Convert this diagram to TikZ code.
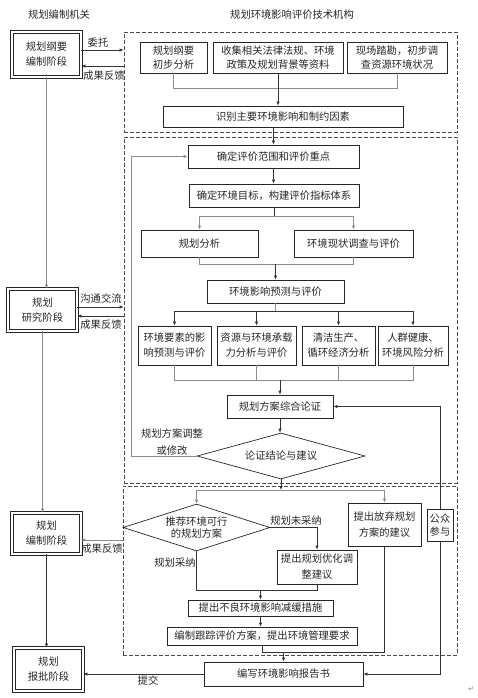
\documentclass[tikz,border=0pt]{standalone}
\usepackage{fontspec}
\setmainfont{Noto Sans CJK SC}
\newfontfamily\symfont{DejaVu Sans}
\usetikzlibrary{arrows.meta,shapes.geometric}

\begin{document}
\begin{tikzpicture}[x=1pt, y=-1pt, >={Latex[length=4pt,width=3.5pt]},
    every node/.style={font=\fontsize{10.3}{15}\selectfont, text=black!85, align=center, inner sep=0pt},
    box/.style={draw=black!85, line width=0.7pt},
    stage/.style={draw=black!85, double, line width=0.8pt, double distance=1.5pt},
    region/.style={draw=black!70, line width=0.7pt, dash pattern=on 4pt off 2pt},
    choice/.style={draw=black!85, line width=0.7pt, diamond, aspect=3.5, font=\fontsize{10.3}{12.5}\selectfont},
    link/.style={draw=black!80, line width=0.7pt},
    glink/.style={draw=black!45, line width=0.8pt}]
\useasboundingbox (0,0) rectangle (478,698);

% titles
\node (tl) at (59,15) {规划编制机关};
\node (tr) at (292,15) {规划环境影响评价技术机构};

% dashed regions
\node (r1) [region, minimum width=333pt, minimum height=100pt] at (290.5,82) {};
\node (r2) [region, minimum width=333pt, minimum height=346pt] at (290.5,310) {};
\node (r3) [region, minimum width=334pt, minimum height=169pt] at (290,570.5) {};

% planning stages
\node (plan1) [stage, minimum width=69pt, minimum height=45pt] at (46.5,54.5) {规划纲要\\编制阶段};
\node (plan2) [stage, minimum width=69pt, minimum height=42pt] at (42.5,310) {规划\\研究阶段};
\node (plan3) [stage, minimum width=69pt, minimum height=41pt] at (46.5,533.5) {规划\\编制阶段};
\node (plan4) [stage, minimum width=69pt, minimum height=43pt] at (48.5,669.5) {规划\\报批阶段};

% first region
\node (a1) [box, minimum width=67pt, minimum height=31pt, font=\fontsize{10.3}{14}\selectfont] at (173.5,57.5) {规划纲要\\初步分析};
\node (a2) [box, minimum width=130pt, minimum height=31pt, font=\fontsize{10.3}{14}\selectfont] at (278,57.5) {收集相关法律法规、环境\\政策及规划背景等资料};
\node (a3) [box, minimum width=100pt, minimum height=31pt, font=\fontsize{10.3}{14}\selectfont] at (397,57.5) {现场踏勘，初步调\\查资源环境状况};
\node (ident) [box, minimum width=240pt, minimum height=21pt] at (283,116.5) {识别主要环境影响和制约因素};

% second region
\node (scope) [box, minimum width=171pt, minimum height=23pt] at (273.5,156.5) {确定评价范围和评价重点};
\node (goal) [box, minimum width=170pt, minimum height=23pt] at (274,195.5) {确定环境目标，构建评价指标体系};
\node (plana) [box, minimum width=117pt, minimum height=27pt] at (199.5,243.5) {规划分析};
\node (status) [box, minimum width=119pt, minimum height=27pt] at (353.5,243.5) {环境现状调查与评价};
\node (pred) [box, minimum width=137pt, minimum height=23pt] at (275.5,291.5) {环境影响预测与评价};
\node (e1) [box, minimum width=73pt, minimum height=39pt] at (174.5,345.5) {环境要素的影\\响预测与评价};
\node (e2) [box, minimum width=79pt, minimum height=39pt] at (256.5,345.5) {资源与环境承载\\力分析与评价};
\node (e3) [box, minimum width=73pt, minimum height=39pt] at (338.5,345.5) {清洁生产、\\循环经济分析};
\node (e4) [box, minimum width=70pt, minimum height=39pt] at (413,345.5) {人群健康、\\环境风险分析};
\node (synth) [box, minimum width=106pt, minimum height=23pt] at (280,406.5) {规划方案综合论证};
\node (concl) [choice, minimum width=168pt, minimum height=46pt] at (281,456) {论证结论与建议};

% third region
\node (rec) [choice, minimum width=147pt, minimum height=47pt] at (196.5,527.5) {推荐环境可行\\的规划方案};
\node (opt) [box, minimum width=80pt, minimum height=34pt, font=\fontsize{10.3}{16}\selectfont] at (317,567) {提出规划优化调\\整建议};
\node (aban) [box, minimum width=73pt, minimum height=43pt, font=\fontsize{10.3}{16}\selectfont] at (384.5,524.5) {提出放弃规划\\方案的建议};
\node (pub) [box, minimum width=26pt, minimum height=32pt, font=\fontsize{10.3}{13}\selectfont] at (440,525) {公众\\参与};
\node (mit) [box, minimum width=145pt, minimum height=16pt] at (260.5,608) {提出不良环境影响减缓措施};
\node (track) [box, minimum width=190pt, minimum height=18pt] at (262,636) {编制跟踪评价方案，提出环境管理要求};
\node (report) [box, minimum width=159pt, minimum height=24pt] at (283.5,674) {编写环境影响报告书};

% left column
\draw [glink, ->] (plan1.south) -- (plan1.south |- plan2.north);
\draw [glink, ->] (plan2.south) -- (plan2.south |- plan3.north);
\draw [link, ->] (plan3.south) -- (plan3.south |- plan4.north);

% exchange with the institute
\draw [link, ->] (plan1.east |- 0,50) -- (r1.west |- 0,50);
\draw [link, <-] (plan1.east |- 0,66) -- (r1.west |- 0,66);
\node at (98,43) {委托};
\node at (104,76) {成果反馈};
\draw [link, ->] (plan2.east |- 0,307) -- (r2.west |- 0,307);
\draw [link, <-] (plan2.east |- 0,316) -- (r2.west |- 0,316);
\node at (101,299) {沟通交流};
\node at (101,325) {成果反馈};
\draw [glink, <-] (plan3.east |- 0,540) -- (r3.west |- 0,540);
\node at (102,549) {成果反馈};
\draw [link, ->] (report.west) -- (report.west -| plan4.east);
\node at (148,681) {提交};

% first region links
\draw [glink] (a1.south) |- (a3.south |- 0,88) -- (a3.south);
\draw [link, ->] (a2.south) -- (a2.south |- ident.north);
\draw [link, ->] (scope.north |- ident.south) -- (scope.north);

% second region links
\draw [link, ->] (scope.south) -- (scope.south |- goal.north);
\coordinate (s1) at (goal.south |- 0,216);
\draw [link] (goal.south) -- (s1);
\draw [glink, ->] (s1) -| (plana.north);
\draw [glink, ->] (s1) -| (status.north);
\draw [glink] (plana.south) |- (status.south |- 0,264) -- (status.south);
\draw [link, ->] (pred.north |- 0,264) -- (pred.north);
\coordinate (s2) at (pred.south |- 0,311);
\draw [glink] (pred.south) -- (s2);
\draw [link, ->] (s2) -| (e1.north);
\draw [link, ->] (s2) -| (e2.north);
\draw [link, ->] (s2) -| (e3.north);
\draw [link, ->] (s2) -| (e4.north);
\draw [glink] (e1.south) |- (e4.south |- 0,380) -- (e4.south);
\draw [glink] (e2.south) -- (e2.south |- 0,380);
\draw [glink] (e3.south) -- (e3.south |- 0,380);
\draw [link, ->] (synth.north |- 0,380) -- (synth.north);
\draw [link, ->] (synth.south) -- (synth.south |- concl.north);
\coordinate (lp) at (131,456);
\draw [glink, ->] (concl.west) -- (lp) |- (scope.west);
\node at (172,442) [font=\fontsize{10.3}{17}\selectfont] {规划方案调整\\或修改};

% public participation
\draw [link, ->] (pub.north) |- (synth.east);
\draw [link, ->] (pub.south) |- (report.east);

% third region links
\coordinate (j3) at (concl.south |- 0,490);
\draw [link, ->] (concl.south) -- (j3);
\draw [glink, ->] (j3) -| (rec.north);
\draw [glink, ->] (j3) -| (aban.north);
\draw [link, ->] (rec.east) -| (opt.north);
\node at (296,521) {规划未采纳};
\draw [link] (rec.south) |- (opt.south |- 0,590) -- (opt.south);
\node at (175,563) {规划采纳};
\draw [link, ->] (mit.north |- 0,590) -- (mit.north);
\draw [link, ->] (mit.south) -- (mit.south |- track.north);
\draw [link] (track.south) |- (aban.south |- 0,652) -- (aban.south);
\draw [link, ->] (report.north |- 0,652) -- (report.north);

\node (pm) at (471,689) [font=\symfont\fontsize{7}{8}\selectfont, text=black!50] {↵};
\end{tikzpicture}
\end{document}
